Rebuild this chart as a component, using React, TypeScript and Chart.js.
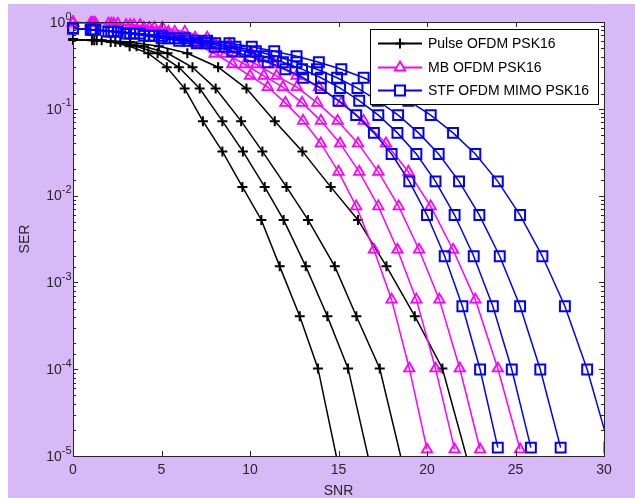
import React, { useEffect, useRef } from "react";
import { Chart, registerables } from "chart.js";

Chart.register(...registerables);

// ---- axis ticks ----
const SNR_MIN = 0;
const SNR_MAX = 30;
const SNR_STEP = 5;
const SER_TICK_VALUES = [1, 0.1, 0.01, 0.001, 0.0001, 0.00001];
const SER_TICK_BASE = "10";
const SER_TICK_EXPONENTS = ["0", "-1", "-2", "-3", "-4", "-5"];

const LEGEND_LABELS = ["Pulse OFDM PSK16", "MB OFDM PSK16", "STF OFDM MIMO PSK16"];
const X_TITLE = "SNR";
const Y_TITLE = "SER";

// ---- Pulse OFDM PSK16 (black, +) ----
const pulseSER = [0.627, 0.616, 0.589, 0.525, 0.436, 0.301, 0.171, 0.0721, 0.0323, 0.0126, 0.00524, 0.00153, 0.000408, 0.000102, 0.0000079];
const pulseSNR1 = [0, 1.07, 2.13, 3.2, 4.25, 5.3, 6.31, 7.34, 8.44, 9.57, 10.64, 11.68, 12.81, 13.84, 14.98];
const pulseSNR2 = [0, 1.2, 2.39, 3.59, 4.78, 5.98, 7.16, 8.44, 9.6, 10.83, 11.9, 13.15, 14.37, 15.54, 16.78];
const pulseSNR3 = [0, 1.34, 2.67, 4.01, 5.34, 6.75, 8.06, 9.5, 10.7, 12.06, 13.28, 14.79, 16.01, 17.33, 18.63];
const pulseSNR4 = [0, 1.62, 3.23, 4.85, 6.46, 8.2, 9.8, 11.4, 12.96, 14.56, 16.1, 17.71, 19.31, 20.87, 22.36];

// ---- MB OFDM PSK16 (magenta, triangles) ----
const mbSER = [0.985, 0.975, 0.955, 0.92, 0.86, 0.77, 0.66, 0.554, 0.431, 0.326, 0.24, 0.178, 0.117, 0.0726, 0.0399, 0.0188, 0.00752, 0.00238, 0.000633, 0.000102, 0.0000119];
const mbSNR1 = [0, 1, 2, 3, 4, 5, 6, 7, 8, 9, 10, 11, 12, 13, 14, 15, 16, 17, 18, 19, 20];
const mbSNR2 = [0, 1.08, 2.16, 3.23, 4.31, 5.39, 6.47, 7.55, 8.62, 9.7, 10.78, 11.86, 12.94, 14.01, 15.09, 16.17, 17.25, 18.33, 19.4, 20.48, 21.56];
const mbSNR3 = [0, 1.15, 2.3, 3.45, 4.6, 5.75, 6.9, 8.05, 9.2, 10.35, 11.5, 12.65, 13.8, 14.95, 16.1, 17.25, 18.4, 19.55, 20.7, 21.85, 23.0];
const mbSNR4 = [0, 1.26, 2.53, 3.79, 5.05, 6.32, 7.58, 8.84, 10.1, 11.37, 12.63, 13.89, 15.16, 16.42, 17.68, 18.95, 20.21, 21.47, 22.73, 24.0, 25.26];

// ---- STF OFDM MIMO PSK16 (blue, squares) ----
const stfSER = [0.846, 0.813, 0.775, 0.735, 0.694, 0.649, 0.608, 0.569, 0.519, 0.46, 0.403, 0.344, 0.286, 0.228, 0.173, 0.124, 0.0845, 0.0528, 0.0301, 0.0146, 0.00597, 0.002, 0.000532, 0.0000991, 0.0000125];
const stfSNR1 = [0, 1, 2, 3, 4, 5, 6, 7, 8, 9, 10, 11, 12, 13, 14, 15, 16, 17, 18, 19, 20, 21, 22, 23, 24];
const stfSNR2 = [0, 1.08, 2.16, 3.23, 4.31, 5.39, 6.47, 7.55, 8.62, 9.7, 10.78, 11.86, 12.94, 14.01, 15.09, 16.17, 17.25, 18.33, 19.4, 20.48, 21.56, 22.64, 23.72, 24.79, 25.87];
const stfSNR3 = [0, 1.15, 2.3, 3.44, 4.59, 5.74, 6.89, 8.04, 9.18, 10.33, 11.48, 12.63, 13.78, 14.92, 16.07, 17.22, 18.37, 19.52, 20.66, 21.81, 22.96, 24.11, 25.26, 26.4, 27.55];
const stfSNR4 = [0, 1.26, 2.53, 3.79, 5.05, 6.32, 7.58, 8.84, 10.1, 11.37, 12.63, 13.89, 15.16, 16.42, 17.68, 18.95, 20.21, 21.47, 22.73, 24.0, 25.26, 26.52, 27.79, 29.05, 30.31];

const BLACK = "#000000";
const MAGENTA = "#FF00FF";
const BLUE = "#0000FF";
const AXIS = "#262626";
const FONT = 'Arial, "Liberation Sans", Helvetica, sans-serif';

function pts(snr: number[], ser: number[]) {
  return snr.map((x, i) => ({ x, y: ser[i] }));
}

const CLIP = { left: 12, top: 12, right: 0, bottom: 0 };

function stfSet(snr: number[]) {
  return {
    data: pts(snr, stfSER),
    showLine: true,
    borderColor: BLUE,
    borderWidth: 1.5,
    pointStyle: "rect",
    pointRadius: 7,
    pointBorderWidth: 2,
    pointBorderColor: BLUE,
    pointBackgroundColor: "rgba(0,0,0,0)",
    clip: CLIP,
  };
}
function mbSet(snr: number[]) {
  return {
    data: pts(snr, mbSER),
    showLine: true,
    borderColor: MAGENTA,
    borderWidth: 1.5,
    pointStyle: "triangle",
    pointRadius: 6,
    pointBorderWidth: 1.8,
    pointBorderColor: MAGENTA,
    pointBackgroundColor: "rgba(0,0,0,0)",
    clip: CLIP,
  };
}
function pulseSet(snr: number[]) {
  return {
    data: pts(snr, pulseSER),
    showLine: true,
    borderColor: BLACK,
    borderWidth: 1.5,
    pointStyle: "cross",
    pointRadius: 5,
    pointBorderWidth: 2,
    pointBorderColor: BLACK,
    pointBackgroundColor: BLACK,
    clip: CLIP,
  };
}

function isDecade(v: number) {
  const l = Math.log10(v);
  return Math.abs(l - Math.round(l)) < 1e-6;
}

const matlabFrame = {
  id: "matlabFrame",
  beforeDatasetsDraw(chart: any) {
    const { ctx, chartArea } = chart;
    const { left, right, top, bottom } = chartArea;
    ctx.save();
    ctx.fillStyle = "#ffffff";
    ctx.fillRect(left, top, right - left, bottom - top);
    ctx.restore();
  },
  afterDatasetsDraw(chart: any) {
    const { ctx, chartArea, scales } = chart;
    const { left, right, top, bottom } = chartArea;
    const xs = scales.x;
    const ys = scales.y;
    ctx.save();
    ctx.strokeStyle = AXIS;
    ctx.lineWidth = 1;
    ctx.beginPath();
    xs.ticks.forEach((t: any) => {
      const px = Math.round(xs.getPixelForValue(t.value)) + 0.5;
      ctx.moveTo(px, bottom);
      ctx.lineTo(px, bottom - 5);
      ctx.moveTo(px, top);
      ctx.lineTo(px, top + 5);
    });
    ys.ticks.forEach((t: any) => {
      const py = Math.round(ys.getPixelForValue(t.value)) + 0.5;
      const len = isDecade(t.value) ? 5 : 3;
      ctx.moveTo(left, py);
      ctx.lineTo(left + len, py);
      ctx.moveTo(right, py);
      ctx.lineTo(right - len, py);
    });
    ctx.stroke();
    ctx.strokeRect(Math.round(left) + 0.5, Math.round(top) + 0.5, Math.round(right - left), Math.round(bottom - top));

    // y tick labels: 10 with raised exponent
    ctx.fillStyle = AXIS;
    ctx.textBaseline = "middle";
    SER_TICK_VALUES.forEach((v, i) => {
      const py = ys.getPixelForValue(v);
      const exp = SER_TICK_EXPONENTS[i];
      ctx.font = `11px ${FONT}`;
      const ew = ctx.measureText(exp).width;
      const xe = left - 1.5 - ew;
      ctx.textAlign = "left";
      ctx.fillText(exp, xe, py - 5.5);
      ctx.font = `14px ${FONT}`;
      ctx.textAlign = "right";
      ctx.fillText(SER_TICK_BASE, xe, py + 1);
    });

    // legend
    const bx = 362.5, by = 25.5, bw = 228, bh = 75;
    ctx.fillStyle = "#ffffff";
    ctx.fillRect(bx, by, bw, bh);
    ctx.strokeStyle = "#000000";
    ctx.strokeRect(bx, by, bw, bh);
    const rows = [39.5, 63.5, 86.5];
    const colors = [BLACK, MAGENTA, BLUE];
    ctx.font = `14px ${FONT}`;
    ctx.textBaseline = "middle";
    ctx.textAlign = "left";
    rows.forEach((ry, i) => {
      ctx.strokeStyle = colors[i];
      ctx.lineWidth = 2;
      ctx.beginPath();
      ctx.moveTo(370, ry);
      ctx.lineTo(414, ry);
      ctx.stroke();
      const cx = 392;
      ctx.beginPath();
      if (i === 0) {
        ctx.moveTo(cx, ry - 5);
        ctx.lineTo(cx, ry + 5);
        ctx.moveTo(cx - 5, ry);
        ctx.lineTo(cx + 5, ry);
        ctx.stroke();
      } else if (i === 1) {
        ctx.lineWidth = 1.8;
        const r = 6;
        ctx.moveTo(cx, ry - r);
        ctx.lineTo(cx + r * Math.sin((2 * Math.PI) / 3), ry - r * Math.cos((2 * Math.PI) / 3));
        ctx.lineTo(cx + r * Math.sin((4 * Math.PI) / 3), ry - r * Math.cos((4 * Math.PI) / 3));
        ctx.closePath();
        ctx.fillStyle = "#ffffff";
        ctx.fill();
        ctx.stroke();
      } else {
        ctx.lineWidth = 2;
        ctx.fillStyle = "#ffffff";
        ctx.fillRect(cx - 5, ry - 5, 10, 10);
        ctx.strokeRect(cx - 5, ry - 5, 10, 10);
      }
      ctx.fillStyle = "#000000";
      ctx.fillText(LEGEND_LABELS[i], 420, ry + 0.5);
    });
    ctx.restore();
  },
};

export default function App() {
  const ref = useRef<HTMLCanvasElement>(null);
  useEffect(() => {
    const canvas = ref.current;
    if (!canvas) return;
    const chart = new Chart(canvas, {
      type: "scatter",
      data: {
        datasets: [
          stfSet(stfSNR1),
          stfSet(stfSNR2),
          stfSet(stfSNR3),
          stfSet(stfSNR4),
          mbSet(mbSNR1),
          mbSet(mbSNR2),
          mbSet(mbSNR3),
          mbSet(mbSNR4),
          pulseSet(pulseSNR1),
          pulseSet(pulseSNR2),
          pulseSet(pulseSNR3),
          pulseSet(pulseSNR4),
        ] as any,
      },
      options: {
        animation: false,
        responsive: false,
        devicePixelRatio: 1,
        events: [],
        layout: { padding: { left: 0, top: 18, right: 31, bottom: 0 } },
        elements: { line: { tension: 0 } },
        plugins: {
          legend: { display: false },
          tooltip: { enabled: false },
        },
        scales: {
          x: {
            type: "linear",
            min: SNR_MIN,
            max: SNR_MAX,
            grid: { display: false, drawTicks: false },
            border: { display: false },
            ticks: {
              stepSize: SNR_STEP,
              padding: 6,
              color: AXIS,
              font: { family: FONT, size: 14 },
              maxRotation: 0,
            },
            title: {
              display: true,
              text: X_TITLE,
              color: AXIS,
              font: { family: FONT, size: 14, lineHeight: 1 },
              padding: { top: 0, bottom: 0 },
            },
            afterFit: (s: any) => {
              s.height = 42;
            },
          },
          y: {
            type: "logarithmic",
            min: 0.00001,
            max: 1,
            grid: { display: false, drawTicks: false },
            border: { display: false },
            ticks: {
              display: false,
              autoSkip: false,
            },
            title: {
              display: true,
              text: Y_TITLE,
              color: AXIS,
              font: { family: FONT, size: 14, lineHeight: 1 },
              padding: { top: 10, bottom: 0 },
            },
            afterFit: (s: any) => {
              s.width = 65;
            },
          },
        },
      },
      plugins: [matlabFrame],
    });
    return () => chart.destroy();
  }, []);
  return (
    <div
      style={{
        position: "absolute",
        left: 8,
        top: 4,
        width: 627,
        height: 494,
        background: "#D8B9F8",
      }}
    >
      <canvas ref={ref} width={627} height={494} style={{ display: "block" }} />
    </div>
  );
}
